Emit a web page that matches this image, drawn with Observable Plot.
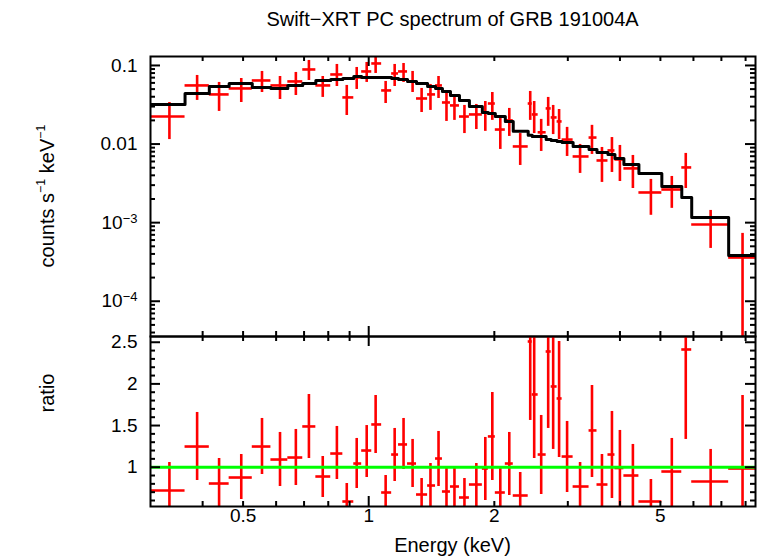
<!DOCTYPE html>
<html><head><meta charset="utf-8">
<script src="https://cdn.jsdelivr.net/npm/d3@7"></script>
<script src="https://cdn.jsdelivr.net/npm/@observablehq/plot@0.6"></script>
<style>
body{margin:0;background:#fff;}
#wrap{position:relative;width:758px;height:556px;font-family:"Liberation Sans",Arial,Helvetica,sans-serif;color:#000;overflow:hidden;}
#wrap svg{position:absolute;left:0;top:0;}
.lbl{position:absolute;white-space:nowrap;line-height:1;}
.lbl sup{font-size:0.62em;position:relative;top:-0.15em;}
</style></head><body>
<div id="wrap">
  <div class="lbl" style="left:150px;width:605px;top:9px;text-align:center;font-size:20px;">Swift−XRT PC spectrum of GRB 191004A</div>
  <div class="lbl" style="left:47px;top:196px;font-size:20px;transform:translate(-50%,-50%) rotate(-90deg);">counts s<sup>−1</sup> keV<sup>−1</sup></div>
  <div class="lbl" style="left:47px;top:393px;font-size:20px;transform:translate(-50%,-50%) rotate(-90deg);">ratio</div>
  <div class="lbl" style="left:150px;width:605px;top:535px;text-align:center;font-size:20px;">Energy (keV)</div>
</div>
<script>
// ---- data ----
const binEdges = [0.3,0.363,0.415,0.463,0.526,0.583,0.640,0.695,0.747,0.811,0.867,0.921,0.962,1.017,1.074,1.135,1.179,1.239,1.302,1.384,1.446,1.502,1.570,1.650,1.743,1.872,1.935,2.011,2.125,2.220,2.411,2.465,2.547,2.662,2.737,2.828,2.907,3.089,3.373,3.524,3.744,3.891,4.088,4.441,5.040,5.626,5.943,7.287,8.45];
const energy = [0.333,0.388,0.438,0.495,0.555,0.613,0.669,0.719,0.776,0.839,0.886,0.936,0.989,1.039,1.098,1.154,1.212,1.274,1.339,1.406,1.470,1.536,1.605,1.696,1.811,1.903,1.978,2.067,2.172,2.307,2.438,2.492,2.590,2.692,2.767,2.859,2.988,3.210,3.428,3.622,3.827,3.999,4.296,4.745,5.325,5.751,6.597,7.867];
const rate = [0.0224,0.0557,0.0428,0.0510,0.0644,0.0557,0.0626,0.0889,0.0557,0.0768,0.0392,0.0704,0.0839,0.106,0.0481,0.0791,0.0839,0.0626,0.0380,0.0428,0.0557,0.0338,0.0310,0.0224,0.0238,0.0252,0.0328,0.0153,0.0200,0.00932,0.0328,0.0238,0.0141,0.0284,0.0218,0.0194,0.0114,0.00695,0.0121,0.00618,0.0083,0.00637,0.0049,0.00242,0.00264,0.00504,0.000948,0.00036];
const rateHi = [0.0338,0.0746,0.0608,0.0683,0.0839,0.0724,0.0815,0.1158,0.0724,0.103,0.0557,0.0943,0.1092,0.134,0.0626,0.103,0.106,0.0839,0.051,0.0573,0.0724,0.044,0.0392,0.031,0.0319,0.0348,0.0453,0.0212,0.0284,0.0136,0.0467,0.0348,0.0206,0.0392,0.031,0.0275,0.0163,0.00989,0.0173,0.00905,0.0121,0.0096,0.00716,0.00355,0.00387,0.0076,0.00143,0.00073];
const rateLo = [0.0114,0.0359,0.026,0.0338,0.0453,0.0369,0.0415,0.0644,0.0392,0.054,0.0231,0.0495,0.0608,0.0791,0.0328,0.054,0.0608,0.0453,0.0252,0.0268,0.038,0.0194,0.02,0.0136,0.0153,0.0145,0.02,0.00854,0.0125,0.00534,0.02,0.0136,0.00805,0.0168,0.0132,0.0114,0.00695,0.00423,0.00738,0.00325,0.00435,0.00334,0.00272,0.00124,0.00152,0.00272,0.00047,0.00001];
const model = [0.0319,0.044,0.054,0.059,0.0525,0.051,0.0557,0.059,0.0644,0.0664,0.0683,0.0724,0.0704,0.0704,0.0704,0.0683,0.0664,0.0626,0.059,0.054,0.051,0.0467,0.0415,0.0359,0.0301,0.0252,0.0245,0.0224,0.0194,0.0145,0.0129,0.0125,0.0125,0.0114,0.0111,0.0108,0.0105,0.00932,0.00854,0.00782,0.00738,0.00656,0.0055,0.00423,0.00289,0.00209,0.00116,0.000383];
const ratio = [0.72,1.248,0.804,0.876,1.248,1.092,1.116,1.489,0.888,1.164,0.588,1.044,1.2,1.513,0.696,1.152,1.273,1.044,0.672,0.78,1.104,0.708,0.768,0.636,0.792,0.984,1.369,0.696,1.044,0.66,2.509,1.873,1.152,2.389,1.969,1.825,1.128,0.768,1.441,0.792,1.152,0.99,0.9,0.588,0.948,2.413,0.828,0.984];
const ratioHi = [1.056,1.657,1.104,1.152,1.585,1.417,1.453,1.873,1.128,1.489,0.804,1.345,1.5,1.861,0.9,1.465,1.585,1.333,0.864,1.044,1.429,0.984,0.984,0.864,1.044,1.357,1.897,0.984,1.417,0.936,3,3,1.621,3,3,2.509,1.549,1.056,1.981,1.152,1.669,1.441,1.273,0.852,1.345,3,1.213,1.861];
const ratioLo = [0.5,0.84,0.5,0.612,0.912,0.768,0.78,1.104,0.636,0.852,0.5,0.744,0.876,1.164,0.5,0.828,0.972,0.756,0.5,0.5,0.768,0.5,0.5,0.5,0.528,0.6,0.84,0.5,0.66,0.5,1.561,1.104,0.672,1.465,1.213,1.116,0.696,0.5,0.876,0.5,0.624,0.5,0.5,0.5,0.5,1.333,0.5,0.5];

// ---- axis ticks & labels ----
const xMajorTicks = [1];
const xMinorTicks = [0.4,0.5,0.6,0.7,0.8,0.9,2,3,4,5,6,7,8];
const xTickLabels = [0.5,1,2,5];
const yMajorTicks = [1e-4,1e-3,1e-2,1e-1];
const yMinorTicks = [4e-5,5e-5,6e-5,7e-5,8e-5,9e-5,2e-4,3e-4,4e-4,5e-4,6e-4,7e-4,8e-4,9e-4,2e-3,3e-3,4e-3,5e-3,6e-3,7e-3,8e-3,9e-3,2e-2,3e-2,4e-2,5e-2,6e-2,7e-2,8e-2,9e-2];
const yTickLabels = ["10−4","10−3","0.01","0.1"];
const rMajorTicks = [1,1.5,2,2.5];
const rMinorTicks = [0.6,0.7,0.8,0.9,1.1,1.2,1.3,1.4,1.6,1.7,1.8,1.9,2.1,2.2,2.3,2.4];
const rTickLabels = ["1","1.5","2","2.5"];

const rows = energy.map((e,i)=>({e, lo:binEdges[i], hi:binEdges[i+1], rate:rate[i], rlo:rateLo[i], rhi:rateHi[i], ratio:ratio[i], qlo:ratioLo[i], qhi:ratioHi[i]}));
const steps = binEdges.map((e,i)=>({e, m: model[Math.min(i, model.length-1)]}));

const W = 758, ML = 150, MR = 3;
const FW = W - ML - MR;
const RED = "#ff0000", GREEN = "#00ff00";
const font = {background:"transparent", fontFamily:'"Liberation Sans",Arial,Helvetica,sans-serif', fontSize:"19px", color:"black", overflow:"visible"};
const xScale = {type:"log", domain:[0.3, 8.45], axis:null};

function sideTicks(vals, len, panelH, horiz){
  // inward ticks on all four sides
  if (horiz) {
    return [
      Plot.ruleY(vals, {y:d=>d, insetRight: FW - len, stroke:"black", strokeWidth:2}),
      Plot.ruleY(vals, {y:d=>d, insetLeft: FW - len, stroke:"black", strokeWidth:2})
    ];
  }
  return [
    Plot.ruleX(vals, {x:d=>d, insetBottom: panelH - len, stroke:"black", strokeWidth:2}),
    Plot.ruleX(vals, {x:d=>d, insetTop: panelH - len, stroke:"black", strokeWidth:2})
  ];
}

// ---- top panel ----
const topH = 336 - 56;
const topPlot = Plot.plot({
  width: W, height: 556, marginLeft: ML, marginRight: MR, marginTop: 56, marginBottom: 556 - 336,
  style: font,
  x: xScale,
  y: {type:"log", domain:[3.56e-5, 0.13], axis:null},
  marks: [
    Plot.ruleY(rows, {y:"rate", x1:"lo", x2:"hi", stroke:RED, strokeWidth:2.6, clip:true}),
    Plot.ruleX(rows, {x:"e", y1:"rlo", y2:"rhi", stroke:RED, strokeWidth:2.6, clip:true}),
    Plot.line(steps, {x:"e", y:"m", curve:"step-after", stroke:"black", strokeWidth:3, clip:true}),
    ...sideTicks(yMajorTicks, 10, topH, true),
    ...sideTicks(yMinorTicks, 5, topH, true),
    ...sideTicks(xMajorTicks, 10, topH, false),
    ...sideTicks(xMinorTicks, 5, topH, false),
    Plot.frame({stroke:"black", strokeWidth:2}),
    Plot.text(yMajorTicks, {y:d=>d, text:(d,i)=>yTickLabels[i], frameAnchor:"left", dx:-13, textAnchor:"end", fontSize:19})
  ]
});

// ---- ratio panel ----
const botH = 506 - 336;
const botPlot = Plot.plot({
  width: W, height: 556, marginLeft: ML, marginRight: MR, marginTop: 336, marginBottom: 50,
  style: font,
  x: xScale,
  y: {type:"linear", domain:[0.528, 2.569], axis:null},
  marks: [
    Plot.ruleY(rows, {y:"ratio", x1:"lo", x2:"hi", stroke:RED, strokeWidth:2.6, clip:true}),
    Plot.ruleX(rows, {x:"e", y1:"qlo", y2:"qhi", stroke:RED, strokeWidth:2.6, clip:true}),
    Plot.ruleY([1], {stroke:GREEN, strokeWidth:3}),
    ...sideTicks(rMajorTicks, 10, botH, true),
    ...sideTicks(rMinorTicks, 5, botH, true),
    ...sideTicks(xMajorTicks, 10, botH, false),
    ...sideTicks(xMinorTicks, 5, botH, false),
    Plot.frame({stroke:"black", strokeWidth:2}),
    Plot.text(rMajorTicks, {y:d=>d, text:(d,i)=>rTickLabels[i], frameAnchor:"left", dx:-13, textAnchor:"end", fontSize:19}),
    Plot.text(xTickLabels, {x:d=>d, text:d=>String(d), frameAnchor:"bottom", dy:15, fontSize:19})
  ]
});

const wrap = document.getElementById("wrap");
wrap.appendChild(topPlot);
wrap.appendChild(botPlot);

// superscript exponents for the 10−n labels
const NS = "http://www.w3.org/2000/svg";
topPlot.querySelectorAll("text").forEach(t => {
  const m = /^10(−\d+)$/.exec(t.textContent);
  if (m) {
    t.textContent = "10";
    const sp = document.createElementNS(NS, "tspan");
    sp.setAttribute("dy", "-0.45em");
    sp.setAttribute("font-size", "13");
    sp.textContent = m[1];
    t.appendChild(sp);
  }
});
</script>
</body></html>
